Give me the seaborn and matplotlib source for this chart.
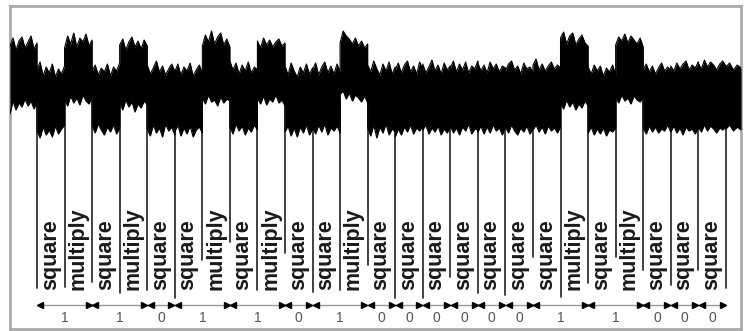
import numpy as np
import pandas as pd
import matplotlib.pyplot as plt
import seaborn as sns


# operations of the square-and-multiply exponentiation, one per time slot
OPS = ['square', 'multiply', 'square', 'multiply', 'square', 'square', 'multiply',
       'square', 'multiply', 'square', 'square', 'multiply', 'square', 'square',
       'square', 'square', 'square', 'square', 'square', 'multiply', 'square',
       'multiply', 'square', 'square', 'square']
# recovered key bits
BITS = [1, 1, 0, 1, 1, 0, 1, 0, 0, 0, 0, 0, 0, 1, 1, 0, 0, 0]

# trace is visible a bit before the first slot and after the last one
TRACE_START = -0.98
TRACE_END = 25.55

# upper / lower envelope of the power trace (a.u.), per segment:
# lead-in, 25 operations, tail
TOP_ENV = [
    [9.4, 10.2, 9.0, 9.9, 10.3, 9.2, 9.8, 10.4, 9.1, 9.7],
    [7.0, 7.8, 6.4, 7.3, 6.7, 7.6, 6.3, 7.1, 6.6, 7.4],
    [9.2, 10.4, 9.6, 10.7, 9.3, 10.2, 9.8, 10.6, 9.4, 10.0],
    [6.9, 7.5, 6.5, 7.2, 6.8, 7.6, 6.4, 7.3, 6.9, 7.7],
    [9.5, 10.1, 9.0, 9.8, 10.3, 9.3, 9.9, 9.1, 10.0, 9.4],
    [7.5, 6.6, 7.2, 7.9, 6.8, 7.4, 6.5, 7.1, 7.6, 6.9],
    [6.8, 7.6, 6.5, 7.3, 6.9, 7.7, 6.4, 7.0, 7.5, 6.7],
    [9.4, 10.5, 9.8, 10.9, 9.6, 10.3, 10.7, 9.5, 10.1, 9.3],
    [7.9, 7.0, 7.7, 6.6, 7.5, 6.9, 7.8, 6.7, 7.3, 7.0],
    [9.9, 9.2, 10.2, 9.5, 10.0, 9.3, 9.8, 10.1, 9.4, 9.7],
    [7.4, 6.5, 7.7, 6.9, 6.3, 7.3, 6.7, 7.6, 6.6, 7.2],
    [7.0, 7.7, 6.5, 7.3, 7.8, 6.7, 7.4, 6.6, 7.6, 6.8],
    [9.7, 10.9, 10.4, 10.1, 9.6, 10.2, 9.4, 9.9, 9.2, 9.6],
    [7.5, 6.8, 7.9, 7.1, 6.5, 7.6, 6.9, 7.8, 6.6, 7.3],
    [7.0, 7.7, 6.7, 7.5, 7.9, 6.8, 7.4, 6.6, 7.8, 7.1],
    [7.6, 6.7, 7.3, 8.0, 6.9, 7.5, 6.6, 7.7, 7.0, 7.4],
    [7.2, 7.9, 6.8, 7.6, 7.0, 7.8, 6.7, 7.4, 7.1, 7.9],
    [7.7, 6.9, 7.5, 6.7, 7.8, 7.1, 7.6, 6.8, 7.4, 7.2],
    [6.9, 7.6, 7.9, 7.0, 7.4, 6.6, 7.7, 7.1, 7.3, 6.8],
    [7.5, 8.1, 7.0, 7.6, 6.9, 7.4, 7.8, 7.1, 7.5, 7.2],
    [10.2, 10.8, 9.6, 10.4, 10.7, 9.5, 10.1, 10.5, 9.7, 9.4],
    [7.3, 6.6, 7.5, 6.9, 7.4, 6.4, 7.2, 6.8, 7.5, 6.5],
    [9.5, 10.3, 9.9, 10.6, 9.7, 10.4, 10.0, 9.6, 10.2, 9.3],
    [7.0, 7.6, 6.8, 7.4, 6.6, 7.2, 7.7, 6.9, 7.3, 7.0],
    [7.4, 6.9, 7.7, 7.1, 7.6, 7.9, 7.0, 7.5, 7.2, 7.8],
    [7.7, 7.1, 8.0, 7.3, 7.8, 7.5, 7.0, 7.6, 7.9, 7.4],
    [7.3, 7.7, 7.0, 7.5, 7.2],
]
BOT_ENV = [
    [2.6, 3.9, 3.0, 3.7, 3.3, 4.1, 3.4, 3.9, 3.1, 3.8],
    [0.9, 0.2, 1.3, 0.5, 1.0, 0.3, 1.4, 0.6, 1.1, 1.5],
    [4.1, 3.4, 4.4, 3.7, 4.2, 3.5, 4.5, 3.9, 3.6, 4.3],
    [1.4, 0.7, 1.6, 1.0, 0.5, 1.3, 0.8, 1.5, 0.6, 1.2],
    [3.7, 3.0, 4.0, 3.3, 3.8, 2.8, 3.6, 3.2, 3.9, 3.5],
    [1.1, 0.4, 1.5, 0.7, 1.2, 0.3, 1.6, 0.9, 1.3, 0.5],
    [0.8, 1.5, 0.4, 1.2, 0.6, 1.4, 0.3, 1.0, 1.3, 0.7],
    [4.2, 3.6, 4.5, 3.8, 4.0, 3.4, 4.3, 3.7, 4.1, 3.9],
    [1.3, 0.6, 1.6, 0.9, 1.4, 0.5, 1.2, 0.8, 1.5, 1.0],
    [4.2, 3.6, 4.4, 3.5, 4.1, 3.8, 4.5, 3.7, 4.0, 3.4],
    [0.8, 1.4, 0.4, 1.2, 0.3, 1.3, 0.7, 1.5, 0.5, 1.1],
    [1.3, 0.6, 1.5, 0.8, 1.6, 0.5, 1.2, 0.9, 1.4, 0.7],
    [4.6, 4.9, 4.1, 4.7, 3.9, 4.5, 4.2, 3.8, 4.4, 3.7],
    [1.2, 0.4, 1.5, 0.2, 1.3, 0.7, 1.6, 0.5, 1.1, 0.8],
    [0.3, 1.1, 0.5, 1.3, 0.8, 1.5, 0.6, 1.2, 0.9, 1.4],
    [1.0, 1.5, 0.6, 1.2, 0.8, 1.4, 0.5, 1.1, 0.7, 1.3],
    [1.4, 0.7, 1.2, 0.5, 1.3, 0.9, 1.6, 0.6, 1.1, 1.0],
    [0.8, 1.4, 0.6, 1.3, 0.7, 1.5, 0.9, 1.2, 0.5, 1.3],
    [1.3, 0.7, 1.5, 0.9, 0.5, 1.2, 0.8, 1.4, 0.6, 1.1],
    [1.0, 1.5, 0.8, 1.3, 0.6, 1.4, 0.9, 1.2, 0.7, 1.3],
    [3.7, 3.1, 4.0, 3.3, 3.8, 3.0, 3.6, 3.2, 3.9, 3.4],
    [0.7, 1.3, 0.5, 1.1, 0.6, 1.2, 0.4, 1.0, 0.8, 1.2],
    [4.3, 3.7, 4.5, 3.9, 4.2, 3.6, 4.4, 4.0, 3.8, 4.3],
    [1.2, 0.6, 1.4, 0.8, 1.3, 0.7, 1.1, 0.9, 1.5, 0.8],
    [0.8, 1.4, 0.7, 1.2, 0.5, 1.3, 0.9, 1.1, 0.6, 1.2],
    [1.3, 0.8, 1.5, 0.9, 1.4, 1.1, 0.7, 1.2, 1.0, 1.3],
    [1.1, 1.5, 0.9, 1.3, 1.0],
]

# how far down each slot boundary marker reaches (a.u.)
LINE_ENDS = [-14.8, -14.7, -14.2, -15.3, -15.0, -15.8, -12.0, -10.2, -15.0,
             -11.3, -15.2, -15.0, -12.5, -15.8, -15.8, -13.7, -15.3, -15.5,
             -11.7, -15.7, -14.3, -11.7, -13.0, -14.5, -13.0, -14.8]


sns.set_theme(style='white')
plt.rcParams['font.family'] = ['Liberation Sans', 'DejaVu Sans']

fig = plt.figure(figsize=(7.47, 3.31), dpi=100)
ax = fig.add_axes([10 / 747, 2 / 331, 731 / 747, 323 / 331])

# segment edges in time-slot units
edges = [TRACE_START] + list(range(len(OPS) + 1)) + [TRACE_END]

xs_all, top_all, bot_all = [], [], []
for i in range(len(TOP_ENV)):
    xs = np.linspace(edges[i], edges[i + 1], len(TOP_ENV[i]))
    xs_all.extend(xs)
    top_all.extend(TOP_ENV[i])
    bot_all.extend(BOT_ENV[i])

trace = pd.DataFrame({'t': xs_all, 'top': top_all, 'bot': bot_all})
ax.fill_between(trace['t'], trace['bot'], trace['top'], color='black', lw=0, zorder=3)
long = trace.melt(id_vars='t', value_vars=['top', 'bot'], var_name='edge', value_name='v')
sns.lineplot(data=long, x='t', y='v', units='edge', estimator=None, sort=False,
             color='black', lw=0.8, ax=ax, zorder=3)

# slot boundaries and operation labels
for k, yend in enumerate(LINE_ENDS):
    ax.plot([k, k], [4.0, yend], color='#333333', lw=1.3, zorder=1)
for k, op in enumerate(OPS):
    ax.text(k + 0.1, -15.0, op, rotation=90, ha='left', va='bottom',
            fontsize=15.5, fontweight='bold', color='#1a1a1a')

# bit arrows
pos = 0
for bit in BITS:
    w = 2 if bit == 1 else 1
    ax.plot([pos, pos + w], [-16.5, -16.5], color='#999999', lw=1.0, zorder=1)
    ax.plot([pos + 0.12], [-16.5], marker='<', ms=5, color='black', zorder=2)
    ax.plot([pos + w - 0.12], [-16.5], marker='>', ms=5, color='black', zorder=2)
    ax.text(pos + w / 2, -17.8, str(bit), ha='center', va='center',
            fontsize=10, color='#555555')
    pos += w

ax.set_xlim(TRACE_START, TRACE_END)
ax.set_ylim(-18.9, 13.4)
ax.set_xticks([])
ax.set_yticks([])
ax.set_xlabel('')
ax.set_ylabel('')
for s in ax.spines.values():
    s.set_visible(True)
    s.set_color('#aaaaaa')
    s.set_linewidth(2)

fig.savefig('out.png', dpi=100)
